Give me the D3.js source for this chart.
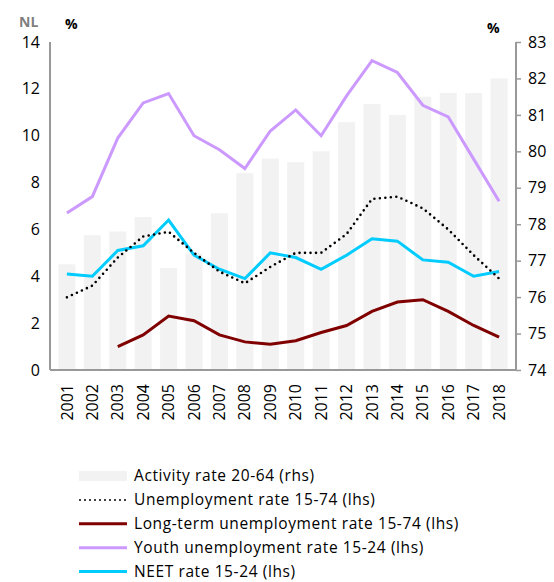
<!DOCTYPE html>
<html>
<head>
<meta charset="utf-8">
<script src="https://cdn.jsdelivr.net/npm/d3@7"></script>
<style>
  body { margin: 0; background: #fff; }
  svg { font-family: 'Open Sans', sans-serif; }
</style>
</head>
<body>
<div id="chart"></div>
<script>
// data
const years = ['2001', '2002', '2003', '2004', '2005', '2006', '2007', '2008', '2009',
  '2010', '2011', '2012', '2013', '2014', '2015', '2016', '2017', '2018']
const activity = [76.9, 77.7, 77.8, 78.2, 76.8, 77.2, 78.3, 79.4, 79.8,
  79.7, 80.0, 80.8, 81.3, 81.0, 81.5, 81.6, 81.6, 82.0]
const unemployment = [3.1, 3.6, 4.8, 5.7, 5.9, 5.0, 4.2, 3.7, 4.4,
  5.0, 5.0, 5.8, 7.3, 7.4, 6.9, 6.0, 4.9, 3.9]
const longTerm = [null, null, 1.0, 1.5, 2.3, 2.1, 1.5, 1.2, 1.1,
  1.25, 1.6, 1.9, 2.5, 2.9, 3.0, 2.5, 1.9, 1.4]
const youth = [6.7, 7.4, 9.9, 11.4, 11.8, 10.0, 9.4, 8.6, 10.2,
  11.1, 10.0, 11.7, 13.2, 12.7, 11.3, 10.8, 9.0, 7.2]
const neet = [4.1, 4.0, 5.1, 5.3, 6.4, 4.9, 4.3, 3.9, 5.0,
  4.8, 4.3, 4.9, 5.6, 5.5, 4.7, 4.6, 4.0, 4.2]
const leftTicks = [0, 2, 4, 6, 8, 10, 12, 14]
const rightTicks = [74, 75, 76, 77, 78, 79, 80, 81, 82, 83]

const W = 554
const H = 582
const margin = { top: 42, right: 38, bottom: 212, left: 50 }
const width = W - margin.left - margin.right
const height = H - margin.top - margin.bottom

const svg = d3.select('#chart')
  .append('svg')
  .attr('width', W)
  .attr('height', H)

const g = svg.append('g')
  .attr('transform', 'translate(' + margin.left + ',' + margin.top + ')')

const x = d3.scaleBand()
  .domain(years)
  .range([0, width])
  .padding(0.33)

const yL = d3.scaleLinear().domain([0, 14]).range([height, 0])
const yR = d3.scaleLinear().domain([74, 83]).range([height, 0])

// bars (rhs)
g.selectAll('.bar')
  .data(activity)
  .enter()
  .append('rect')
  .attr('class', 'bar')
  .attr('x', (d, i) => x(years[i]))
  .attr('y', d => yR(d))
  .attr('width', x.bandwidth())
  .attr('height', d => height - yR(d))
  .style('fill', '#f2f2f2')

const line = d3.line()
  .defined(d => d != null)
  .x((d, i) => x(years[i]) + x.bandwidth() / 2)
  .y(d => yL(d))

const series = [
  { values: youth, color: '#cc99ff', dash: null },
  { values: neet, color: '#00ccff', dash: null },
  { values: longTerm, color: '#800000', dash: null },
  { values: unemployment, color: '#000', dash: '0,5.5' }
]

series.forEach(s => {
  g.append('path')
    .datum(s.values)
    .attr('d', line)
    .attr('fill', 'none')
    .attr('stroke', s.color)
    .attr('stroke-width', s.dash ? 2.6 : 3)
    .attr('stroke-linecap', s.dash ? 'round' : 'butt')
    .attr('stroke-dasharray', s.dash)
})

// axes
const axisColor = '#999'
const gl = g.append('g')
  .call(d3.axisLeft(yL).tickValues(leftTicks).tickSize(0).tickPadding(10))
const gr = g.append('g')
  .attr('transform', 'translate(' + width + ',0)')
  .call(d3.axisRight(yR).tickValues(rightTicks).tickSize(5).tickPadding(7))
const gx = g.append('g')
  .attr('transform', 'translate(0,' + height + ')')
  .call(d3.axisBottom(x).tickSize(0).tickPadding(0))

;[gl, gr, gx].forEach(a => {
  a.select('.domain').attr('stroke', axisColor).attr('stroke-width', 2)
  a.selectAll('.tick line').attr('stroke', axisColor).attr('stroke-width', 1.5)
  a.selectAll('text').attr('fill', '#000').style('font-size', '16px')
    .style('font-family', '"Open Sans", sans-serif')
})
gl.select('.domain').attr('d', 'M0,' + height + 'V0')
gr.select('.domain').attr('d', 'M0,' + height + 'V0')
gx.select('.domain').attr('d', 'M0,0H' + width)

gx.selectAll('text')
  .attr('transform', 'rotate(-90)')
  .attr('text-anchor', 'end')
  .attr('x', -14)
  .attr('y', 0)
  .attr('dy', '0.35em')

// titles
svg.append('text').attr('x', 19).attr('y', 27).text('NL')
  .style('font-size', '14px').style('font-weight', 'bold').attr('fill', '#7f7f7f')
svg.append('text').attr('x', 65).attr('y', 29).text('%')
  .style('font-size', '14px').style('font-weight', 'bold')
svg.append('text').attr('x', 487).attr('y', 33).text('%')
  .style('font-size', '14px').style('font-weight', 'bold')

// legend
const legendItems = [
  { label: 'Activity rate 20-64 (rhs)', type: 'bar', color: '#f2f2f2' },
  { label: 'Unemployment rate 15-74 (lhs)', type: 'dot', color: '#000' },
  { label: 'Long-term unemployment rate 15-74 (lhs)', type: 'line', color: '#800000' },
  { label: 'Youth unemployment rate 15-24 (lhs)', type: 'line', color: '#cc99ff' },
  { label: 'NEET rate 15-24 (lhs)', type: 'line', color: '#00ccff' }
]
const legend = svg.append('g').attr('transform', 'translate(79,476)')
legendItems.forEach((d, i) => {
  const row = legend.append('g').attr('transform', 'translate(0,' + (i * 23.9) + ')')
  if (d.type === 'bar') {
    row.append('rect').attr('x', 0).attr('y', -5).attr('width', 48).attr('height', 10)
      .attr('fill', d.color)
  } else {
    row.append('line').attr('x1', d.type === 'dot' ? 1 : 0).attr('x2', 48)
      .attr('stroke', d.color)
      .attr('stroke-width', d.type === 'dot' ? 2 : 3)
      .attr('stroke-linecap', d.type === 'dot' ? 'round' : 'butt')
      .attr('stroke-dasharray', d.type === 'dot' ? '0,5' : null)
  }
  row.append('text').attr('x', 55).attr('dy', '0.35em').text(d.label)
    .style('font-size', '15.5px')
    .style('letter-spacing', '0.6px')
})
</script>
</body>
</html>
